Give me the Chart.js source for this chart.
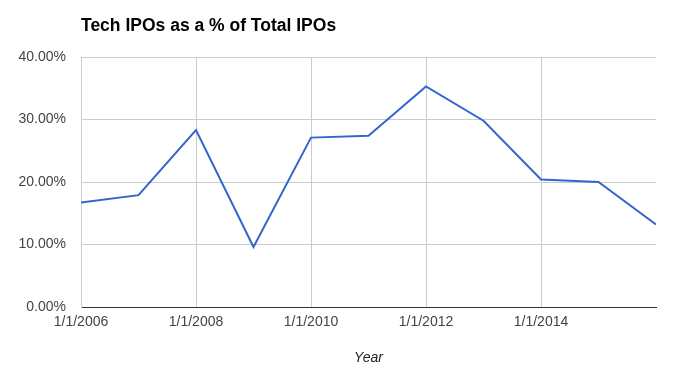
<!DOCTYPE html>
<html>
<head>
<meta charset="utf-8">
<script src="https://cdn.jsdelivr.net/npm/chart.js@4"></script>
<style>
  html, body { margin: 0; padding: 0; background: #fff; }
  #wrap { width: 688px; height: 379px; }
</style>
</head>
<body>
<div id="wrap"><canvas id="iposChart" width="688" height="379"></canvas></div>
<script>
  // data
  const years = [2006, 2007, 2008, 2009, 2010, 2011, 2012, 2013, 2014, 2015, 2016];
  const techShare = [16.7, 17.9, 28.3, 9.6, 27.1, 27.4, 35.3, 29.8, 20.4, 20.0, 13.2];
  const xTickYears = [2006, 2008, 2010, 2012, 2014];
  const xTickLabels = ['1/1/2006', '1/1/2008', '1/1/2010', '1/1/2012', '1/1/2014'];
  const yTicks = [0, 10, 20, 30, 40];

  const font = "'Liberation Sans', Arial, sans-serif";

  new Chart(document.getElementById('iposChart'), {
    type: 'line',
    data: {
      datasets: [{
        label: 'Tech IPOs',
        data: years.map((y, i) => ({ x: y, y: techShare[i] })),
        borderColor: '#3366cc',
        borderWidth: 2,
        pointRadius: 0,
        tension: 0,
        fill: false
      }]
    },
    options: {
      responsive: false,
      animation: false,
      layout: { padding: { left: 0, right: 32, top: 0, bottom: 0 } },
      plugins: {
        legend: { display: false },
        tooltip: { enabled: false },
        title: {
          display: true,
          text: 'Tech IPOs as a % of Total IPOs',
          align: 'start',
          fullSize: false,
          color: '#000',
          font: { family: font, size: 17.5, weight: 'bold' },
          padding: { top: 16, bottom: 20 }
        }
      },
      scales: {
        x: {
          type: 'linear',
          min: 2006,
          max: 2016,
          afterBuildTicks: s => { s.ticks = xTickYears.map(v => ({ value: v })); },
          afterFit: s => { s.height = 72; },
          ticks: {
            color: '#444',
            font: { family: font, size: 14 },
            padding: 7,
            maxRotation: 0,
            autoSkip: false,
            callback: v => xTickLabels[xTickYears.indexOf(v)]
          },
          grid: { color: '#cccccc', drawTicks: false },
          border: { color: '#333', width: 1 },
          title: {
            display: true,
            text: 'Year',
            color: '#222',
            font: { family: font, size: 14, style: 'italic' },
            padding: { top: 0, bottom: 12 }
          }
        },
        y: {
          min: 0,
          max: 40,
          afterBuildTicks: s => { s.ticks = yTicks.map(v => ({ value: v })); },
          afterFit: s => { s.width = 81; },
          ticks: {
            color: '#444',
            font: { family: font, size: 14 },
            padding: 15,
            callback: v => v.toFixed(2) + '%'
          },
          grid: { color: '#cccccc', drawTicks: false },
          border: { color: '#cccccc', width: 1 }
        }
      }
    }
  });
</script>
</body>
</html>
